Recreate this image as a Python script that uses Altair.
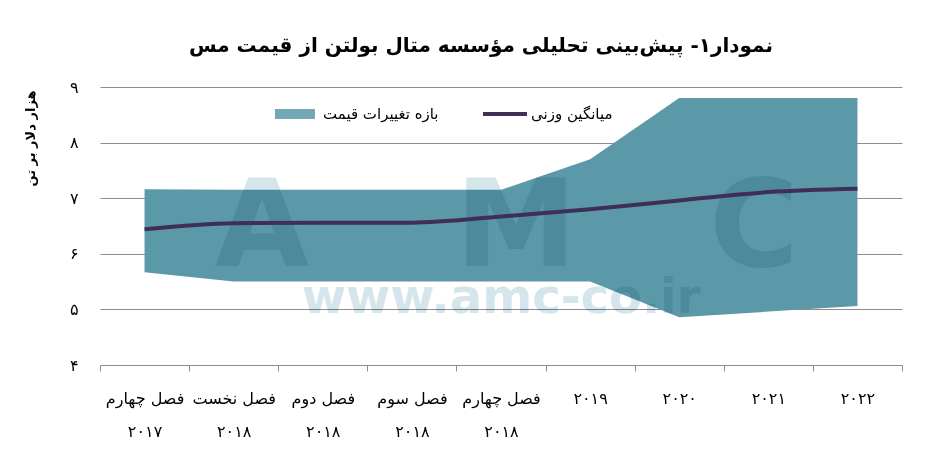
import altair as alt
import pandas as pd

categories = ["فصل چهارم\n۲۰۱۷", "فصل نخست\n۲۰۱۸", "فصل دوم\n۲۰۱۸", "فصل سوم\n۲۰۱۸",
              "فصل چهارم\n۲۰۱۸", "۲۰۱۹", "۲۰۲۰", "۲۰۲۱", "۲۰۲۲"]
mean_price = [6.44, 6.55, 6.56, 6.56, 6.67, 6.80, 6.96, 7.11, 7.17]
range_high = [7.16, 7.15, 7.15, 7.15, 7.15, 7.70, 8.80, 8.80, 8.80]
range_low = [5.67, 5.50, 5.50, 5.50, 5.50, 5.50, 4.86, 4.96, 5.06]

AREA_NAME = "بازه تغییرات قیمت"
LINE_NAME = "میانگین وزنی"
TITLE = "نمودار۱- پیش\u200cبینی تحلیلی مؤسسه متال بولتن از قیمت مس"
Y_TITLE = "هزار دلار بر تن"
FONT = "DejaVu Sans"

df = pd.DataFrame({
    "cat": categories,
    "mean": mean_price,
    "hi": range_high,
    "lo": range_low,
    "a": AREA_NAME,
    "l": LINE_NAME,
})

wm_letters = pd.DataFrame({"t": ["A", "M", "C"], "px": [162, 416, 654]})
wm_url = pd.DataFrame({"t": ["www.amc-co.ir"]})

x_enc = alt.X(
    "cat:N", sort=categories, title=None,
    scale=alt.Scale(type="band", paddingInner=0, paddingOuter=0),
    axis=alt.Axis(
        labelAngle=0, labelFont=FONT, labelFontSize=16, labelColor="#000",
        labelExpr="split(datum.label, '\\n')", labelLineHeight=33,
        labelPadding=19, tickBand="extent", tickSize=6, tickColor="#8c8c8c",
        domainColor="#8c8c8c", grid=False, labelBaseline="top",
    ),
)

y_scale = alt.Scale(domain=[4, 9], nice=False, zero=False)
y_axis = alt.Axis(
    values=[4, 5, 6, 7, 8, 9], grid=True, gridColor="#8c8c8c", domain=False, ticks=False,
    labelFont=FONT, labelFontSize=16, labelColor="#000", labelPadding=22,
    labelExpr="['۰','۱','۲','۳','۴','۵','۶','۷','۸','۹'][datum.value]",
    title=Y_TITLE, titleFont=FONT, titleFontSize=13, titleFontWeight="bold",
    titleColor="#000", titleAngle=270, titleX=-70, titleY=3, titleAlign="right",
    titleBaseline="middle",
)

base = alt.Chart(df)

area = base.mark_area(opacity=1).encode(
    x=x_enc,
    y=alt.Y("hi:Q", scale=y_scale, axis=y_axis),
    y2="lo:Q",
    fill=alt.Fill("a:N", scale=alt.Scale(domain=[AREA_NAME], range=["#5B99A9"]),
                  legend=alt.Legend(orient="none", legendX=175, legendY=7, title=None,
                                    symbolType="M-1,-0.25H1V0.25H-1Z", symbolSize=1600,
                                    symbolStrokeWidth=0, symbolOpacity=0.85,
                                    labelFont=FONT, labelFontSize=15, labelColor="#000",
                                    labelOffset=8, padding=0)),
)

line = base.mark_line(strokeWidth=4, interpolate="monotone").encode(
    x=alt.X("cat:N", sort=categories),
    y=alt.Y("mean:Q", scale=y_scale),
    stroke=alt.Stroke("l:N", scale=alt.Scale(domain=[LINE_NAME], range=["#3F2F56"]),
                      legend=alt.Legend(orient="none", legendX=381, legendY=3, title=None,
                                        symbolType="stroke", symbolSize=1936,
                                        symbolStrokeWidth=4,
                                        labelFont=FONT, labelFontSize=15, labelColor="#000",
                                        labelOffset=2, padding=0)),
)

wm1 = alt.Chart(wm_letters).mark_text(
    font=FONT, fontWeight="bold", fontSize=122, color="#D4E6EC", blend="multiply",
    baseline="alphabetic", align="center",
).encode(x=alt.X("px:Q", scale=None), y=alt.value(179), text="t:N")

wm2 = alt.Chart(wm_url).mark_text(
    font=FONT, fontWeight="bold", fontSize=48, color="#D4E6EC", blend="multiply",
    baseline="alphabetic", align="center",
).encode(x=alt.value(401), y=alt.value(226), text="t:N")

chart = alt.layer(area, wm1, wm2, line).resolve_scale(fill="independent", stroke="independent").properties(
    width=802, height=278,
    autosize=alt.AutoSizeParams(type="none"),
    padding={"left": 92, "top": 79, "right": 37, "bottom": 101},
    background="white",
    title=alt.TitleParams(TITLE, font=FONT, fontSize=20, fontWeight="bold", color="#000",
                          anchor="middle", dx=-20, offset=13, baseline="middle"),
).configure_view(stroke=None)

chart.save("out.html", embed_options={"renderer": "svg", "actions": False})
